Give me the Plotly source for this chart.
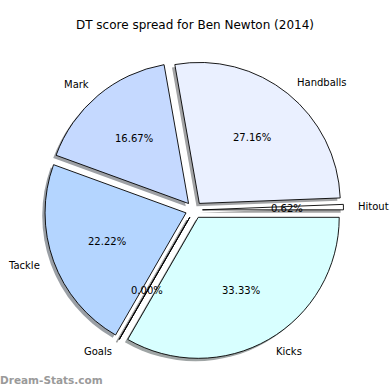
import math
import plotly.graph_objects as go

# ---- data ----
categories = ["Kicks", "Goals", "Tackle", "Mark", "Handballs", "Hitout"]
dt_points = [54, 0, 36, 27, 44, 1]
slice_colors = ["#d8ffff", "#ffffff", "#b4d5ff", "#c5d9ff", "#eaf0ff", "#ffffff"]
explode = [0.06, 0.06, 0.06, 0.06, 0.06, 0.06]
chart_title = "DT score spread for Ben Newton (2014)"
watermark = "Dream-Stats.com"

# ---- layout constants ----
W, H = 390, 390
CX, CY = 194, 210          # pie centre in px (from left / top)
R = 141                     # pie radius in px
SH = 0.02                   # shadow offset (fraction of radius)
FONT = "DejaVu Sans"

total = sum(dt_points)
maxpull = max(explode)
box = 2 * R * (1 + maxpull)

dom_x = [(CX - box / 2) / W, (CX + box / 2) / W]
dom_y = [1 - (CY + box / 2) / H, 1 - (CY - box / 2) / H]
sdx = SH * R / W
sdy = SH * R / H


def shade(hexcol):
    h = hexcol.lstrip("#")
    r, g, b = (int(h[i:i + 2], 16) for i in (0, 2, 4))
    return "rgba(%d,%d,%d,0.5)" % (r * 0.3, g * 0.3, b * 0.3)


fig = go.Figure()

# shadow pie
fig.add_trace(go.Pie(
    labels=categories, values=dt_points, sort=False, direction="clockwise",
    rotation=90, pull=explode, textinfo="none", hoverinfo="skip",
    marker=dict(colors=[shade(c) for c in slice_colors], line=dict(width=0)),
    domain=dict(x=[dom_x[0] - sdx, dom_x[1] - sdx], y=[dom_y[0] - sdy, dom_y[1] - sdy]),
    showlegend=False,
))
# main pie
fig.add_trace(go.Pie(
    labels=categories, values=dt_points, sort=False, direction="clockwise",
    rotation=90, pull=explode, textinfo="none",
    marker=dict(colors=slice_colors, line=dict(color="black", width=0.9)),
    domain=dict(x=dom_x, y=dom_y),
    showlegend=False,
))
# invisible cartesian trace so the x/y axes exist for text placement
fig.add_trace(go.Scatter(x=[0], y=[0], mode="markers", marker=dict(opacity=0),
                         hoverinfo="skip", showlegend=False))

annotations = []
shapes = []
cum = 0.0
for name, v, ex in zip(categories, dt_points, explode):
    frac = v / total
    mid = math.radians(-(cum + frac / 2) * 360)
    ox, oy = ex * math.cos(mid), ex * math.sin(mid)
    if v == 0:
        x0, y0 = ox, oy
        x1, y1 = ox + math.cos(mid), oy + math.sin(mid)
        shapes.append(dict(type="line", xref="x", yref="y", layer="above",
                           x0=x0 - SH, y0=y0 - SH, x1=x1 - SH, y1=y1 - SH,
                           line=dict(color="rgba(0,0,0,0.4)", width=1.5)))
        shapes.append(dict(type="line", xref="x", yref="y", layer="above",
                           x0=x0, y0=y0, x1=x1, y1=y1,
                           line=dict(color="black", width=0.9)))
    # percentage text at 0.6 r
    annotations.append(dict(
        x=ox + 0.6 * math.cos(mid), y=oy + 0.6 * math.sin(mid),
        xref="x", yref="y", text="%.2f%%" % (frac * 100), showarrow=False,
        xanchor="center", yanchor="middle", borderpad=0, borderwidth=0,
        font=dict(family=FONT, size=10, color="black"),
    ))
    # label text at 1.1 r
    lx, ly = ox + 1.1 * math.cos(mid), oy + 1.1 * math.sin(mid)
    annotations.append(dict(
        x=lx, y=ly, xref="x", yref="y", text=name, showarrow=False,
        xanchor="left" if lx > 0 else "right", yanchor="middle",
        borderpad=0, borderwidth=0,
        font=dict(family=FONT, size=10, color="black"),
    ))
    cum += frac

annotations.append(dict(
    x=-2 / W, y=10 / H, xref="paper", yref="paper", text="<b>%s</b>" % watermark,
    showarrow=False, xanchor="left", yanchor="middle",
    font=dict(family=FONT, size=10.5, color="#9a9a9a"),
))

fig.update_layout(
    width=W, height=H,
    margin=dict(l=0, r=0, t=0, b=0),
    paper_bgcolor="white", plot_bgcolor="rgba(0,0,0,0)",
    title=dict(text=chart_title, x=0.5, xanchor="center", y=1 - 25 / H,
               yanchor="middle", yref="paper",
               font=dict(family=FONT, size=12, color="black")),
    xaxis=dict(range=[-CX / R, (W - CX) / R], visible=False, fixedrange=True),
    yaxis=dict(range=[-(H - CY) / R, CY / R], visible=False, fixedrange=True),
    annotations=annotations,
    shapes=shapes,
)

fig.write_html("out.html", config={"displayModeBar": False},
               post_script="document.body.style.margin='0';")
